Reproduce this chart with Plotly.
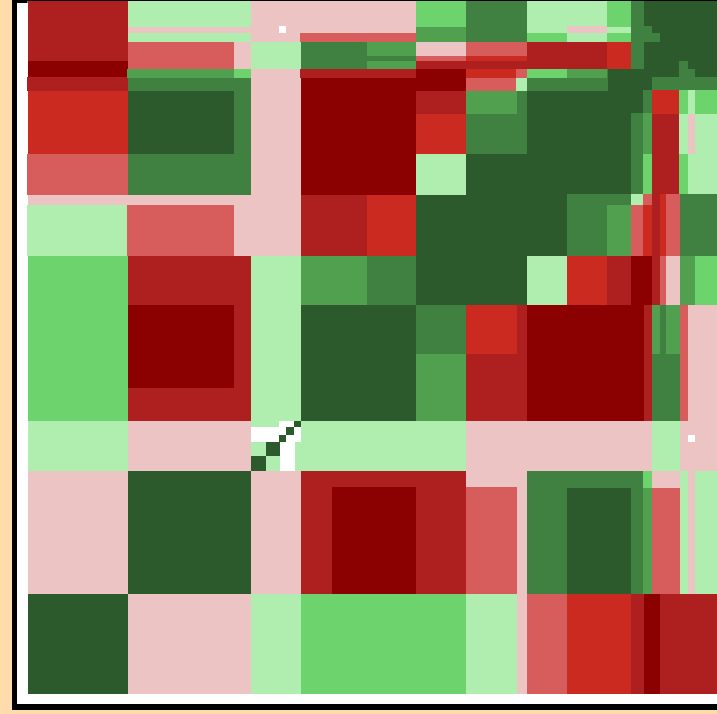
import numpy as np
import plotly.graph_objects as go

level_colors = ["#2d5a2d", "#408040", "#50a050", "#6dd46d", "#b0eeb0",
                "#ecc4c4", "#d75c5c", "#cb2a20", "#ae2020", "#8b0000"]

# (x0, x1, y0, y1, level) painted in order; level None = empty cell
col_a = [
    (28, 128, 1, 61, 8), (28, 128, 61, 77, 9), (27, 128, 77, 91, 8), (28, 128, 91, 154, 7),
    (27, 128, 154, 195, 6), (28, 128, 195, 205, 5), (27, 128, 205, 256, 4), (28, 128, 256, 421, 3),
    (28, 128, 421, 471, 4), (28, 128, 471, 594, 5), (28, 128, 594, 694, 0),
]
col_b = [
    (128, 251, 1, 27, 4), (128, 251, 27, 33, 5), (128, 251, 33, 42, 4),
    (128, 234, 42, 69, 6), (234, 251, 42, 69, 5), (127, 234, 69, 78, 2), (234, 251, 69, 78, 3),
    (128, 251, 78, 195, 1), (128, 234, 91, 154, 0), (128, 251, 195, 205, 5),
    (127, 234, 205, 256, 6), (234, 251, 205, 256, 5), (128, 251, 256, 421, 8), (128, 234, 305, 388, 9),
    (128, 251, 421, 471, 5), (128, 251, 471, 594, 0), (128, 251, 594, 694, 5),
]
col_c = [
    (251, 416, 1, 33, 5), (251, 301, 33, 42, 5), (251, 301, 42, 69, 4), (251, 301, 69, 256, 5),
    (251, 301, 256, 421, 4), (251, 301, 471, 594, 5), (251, 301, 594, 694, 4),
]
diagonal = [
    (251, 301, 421, 427, 4), (279, 294, 421, 427, None), (294, 301, 421, 427, 0),
    (251, 301, 427, 442, None), (286, 294, 427, 435, 0), (279, 286, 435, 442, 0),
    (251, 266, 442, 456, 4), (266, 280, 442, 456, 0), (280, 295, 442, 456, None), (295, 301, 442, 456, 4),
    (251, 266, 456, 471, 0), (266, 280, 456, 471, 4), (280, 295, 456, 471, None), (295, 301, 456, 471, 4),
    (279, 286, 26, 33, None), (688, 695, 435, 442, None),
]
col_d = [
    (300, 416, 33, 42, 6), (301, 367, 42, 69, 1), (367, 416, 42, 56, 2), (367, 416, 56, 61, 1),
    (367, 416, 61, 69, 2), (300, 416, 69, 78, 8), (301, 416, 78, 195, 9), (301, 367, 195, 256, 8),
    (367, 416, 195, 256, 7), (301, 367, 256, 305, 2), (367, 416, 256, 305, 1), (301, 416, 305, 421, 0),
    (301, 466, 421, 471, 4), (301, 466, 471, 487, 8), (301, 332, 487, 594, 8), (332, 416, 487, 594, 9),
    (416, 466, 487, 594, 8), (301, 466, 594, 694, 3),
]
col_e = [
    (416, 466, 1, 27, 3), (416, 466, 27, 42, 2), (416, 466, 42, 56, 5), (416, 466, 56, 61, 6),
    (416, 466, 61, 69, 8), (416, 466, 69, 91, 9), (416, 466, 91, 114, 8), (416, 466, 114, 154, 7),
    (416, 466, 154, 195, 4), (416, 466, 195, 305, 0), (416, 466, 305, 354, 1), (416, 466, 354, 421, 2),
]
col_f = [
    (466, 527, 1, 42, 1), (466, 527, 42, 56, 6), (466, 528, 56, 61, 7), (466, 527, 61, 69, 8),
    (466, 516, 69, 78, 7), (516, 527, 69, 78, 6), (466, 516, 78, 91, 6), (516, 527, 78, 91, 4),
    (466, 517, 91, 114, 2), (517, 527, 91, 114, 1), (466, 527, 114, 154, 1), (466, 527, 154, 305, 0),
    (466, 517, 305, 354, 7), (517, 527, 305, 354, 8), (466, 527, 354, 421, 8),
    (466, 652, 421, 471, 5), (466, 527, 471, 487, 5), (466, 517, 487, 594, 6), (517, 527, 487, 594, 5),
    (466, 517, 594, 694, 4), (517, 527, 594, 694, 5),
]
col_g = [
    (527, 607, 1, 33, 4), (567, 607, 26, 33, 5), (607, 631, 1, 27, 3), (607, 631, 27, 33, 4),
    (527, 567, 33, 42, 3), (567, 607, 33, 42, 4), (607, 631, 33, 42, 3),
    (527, 607, 42, 69, 8), (607, 631, 42, 69, 7), (527, 567, 69, 78, 3), (567, 607, 69, 78, 2),
    (607, 631, 69, 78, 1), (527, 608, 78, 91, 1), (608, 717, 69, 91, 0), (527, 631, 91, 194, 0),
    (631, 717, 1, 69, 0), (631, 644, 1, 69, 1), (644, 652, 26, 33, 1), (644, 660, 33, 42, 1),
    (652, 717, 77, 90, 1), (679, 688, 61, 77, 1), (688, 695, 69, 77, 1),
    (527, 567, 194, 256, 0), (567, 607, 194, 256, 1), (607, 631, 194, 205, 1), (607, 631, 205, 256, 2),
    (527, 567, 256, 305, 4), (567, 607, 256, 305, 7), (607, 631, 256, 305, 8), (631, 652, 256, 305, 9),
    (527, 644, 305, 421, 9), (644, 652, 305, 421, 8),
]
col_h = [
    (631, 643, 90, 113, 0), (643, 652, 90, 113, 1), (631, 643, 113, 194, 1), (643, 652, 113, 154, 2),
    (643, 652, 154, 194, 3), (652, 679, 90, 114, 7), (652, 679, 114, 194, 8),
    (679, 688, 90, 114, 3), (688, 695, 90, 114, 4), (695, 717, 90, 114, 3),
    (679, 688, 114, 154, 4), (688, 695, 114, 154, 5), (695, 717, 114, 154, 4),
    (679, 688, 154, 194, 3), (688, 717, 154, 194, 4),
    (631, 643, 194, 205, 4), (631, 643, 205, 256, 6), (643, 652, 194, 205, 6), (643, 652, 205, 256, 7),
    (652, 660, 194, 305, 8), (660, 666, 194, 256, 7), (666, 680, 194, 256, 6), (680, 717, 194, 256, 1),
    (660, 666, 256, 305, 6), (666, 680, 256, 305, 5), (680, 695, 256, 305, 2), (695, 717, 256, 305, 3),
    (652, 660, 305, 354, 2), (660, 666, 305, 354, 1), (666, 680, 305, 354, 2), (652, 680, 354, 421, 1),
    (680, 688, 305, 421, 6), (688, 717, 305, 421, 5), (652, 680, 421, 471, 4), (680, 717, 421, 471, 5),
]
diagonal_last = [(688, 695, 435, 442, None)]
col_i = [
    (527, 643, 471, 488, 1), (643, 652, 471, 488, 3), (652, 680, 471, 488, 5), (680, 688, 471, 488, 4),
    (688, 695, 471, 488, 5), (695, 717, 471, 488, 4), (527, 567, 488, 594, 1), (567, 631, 488, 594, 0),
    (631, 643, 488, 594, 1), (643, 652, 488, 594, 2), (652, 680, 488, 594, 6), (680, 688, 488, 594, 4),
    (688, 695, 488, 594, 5), (695, 717, 488, 594, 4), (527, 567, 594, 694, 6), (567, 631, 594, 694, 7),
    (631, 644, 594, 694, 8), (644, 660, 594, 694, 9), (660, 717, 594, 694, 8),
]

blocks = col_a + col_b + col_c + col_d + col_e + col_f + col_g + col_h + col_i + diagonal + diagonal_last

xs = sorted({b[0] for b in blocks} | {b[1] for b in blocks})
ys = sorted({b[2] for b in blocks} | {b[3] for b in blocks})
z = np.full((len(ys) - 1, len(xs) - 1), np.nan)
for x0, x1, y0, y1, lev in blocks:
    z[ys.index(y0):ys.index(y1), xs.index(x0):xs.index(x1)] = np.nan if lev is None else lev

n = len(level_colors)
scale = []
for i, c in enumerate(level_colors):
    scale += [[i / n, c], [(i + 1) / n, c]]

fig = go.Figure(go.Heatmap(x=xs, y=ys, z=z, colorscale=scale, zmin=0, zmax=n, showscale=False,
                           hoverongaps=False))
axis = dict(showgrid=False, zeroline=False, ticks="", showticklabels=False, showline=True, linecolor="black")
fig.update_xaxes(range=[17, 717], linewidth=6, **axis)
fig.update_yaxes(range=[704, 1], linewidth=5, **axis)
# frame strip along the top edge, with its short stub at the left corner
H = 703.0
fig.add_shape(type="rect", xref="paper", yref="paper", x0=-5 / 700, x1=1, y0=1, y1=1 + 1 / H,
              fillcolor="black", line_width=0)
fig.add_shape(type="rect", xref="paper", yref="paper", x0=-5 / 700, x1=10.5 / 700, y0=1 - 2 / H, y1=1 + 1 / H,
              fillcolor="black", line_width=0)
fig.update_layout(width=717, height=714, margin=dict(l=17, r=0, t=1, b=10, pad=0),
                  paper_bgcolor="#ffdcaa", plot_bgcolor="white")
fig.write_html("out.html", post_script="document.body.style.margin='0';document.body.style.overflow='hidden';",
               config={"displayModeBar": False})
